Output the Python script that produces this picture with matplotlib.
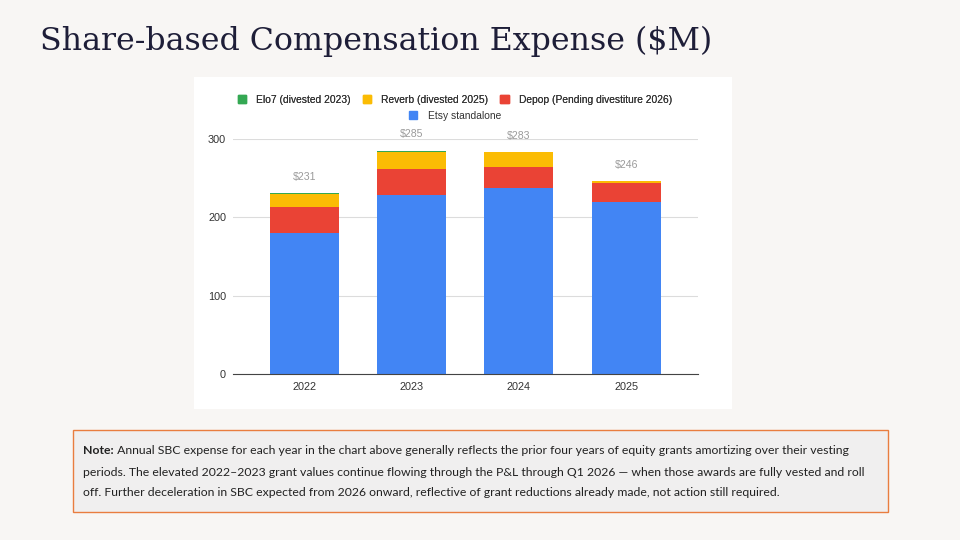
"""
Share-based compensation expense, stacked by business unit (2022-2025).
Rebuilds the slide: serif title, white chart card, orange-bordered note box.
"""
import matplotlib
matplotlib.use("Agg")
import matplotlib.pyplot as plt
from matplotlib.patches import Rectangle
import numpy as np

plt.rcParams["font.family"] = ["Liberation Sans", "DejaVu Sans"]

years = ["2022", "2023", "2024", "2025"]
etsy = [180, 229, 237, 220]
depop = [33, 33, 27, 24]
reverb = [17, 21, 19, 2]
elo7 = [1, 2, 0, 0]
totals = ["$231", "$285", "$283", "$246"]

series_names = ["Elo7 (divested 2023)", "Reverb (divested 2025)",
                "Depop (Pending divestiture 2026)", "Etsy standalone"]
BLUE, RED, YELLOW, GREEN = "#4285f4", "#ea4335", "#fbbc04", "#34a853"

note_lines = [
    "Annual SBC expense for each year in the chart above generally reflects the prior four years of equity grants amortizing over their vesting",
    "periods. The elevated 2022\u20132023 grant values continue flowing through the P&L through Q1 2026 \u2014 when those awards are fully vested and roll",
    "off. Further deceleration in SBC expected from 2026 onward, reflective of grant reductions already made, not action still required.",
]

W, H = 960, 540
fig = plt.figure(figsize=(W / 100, H / 100), dpi=100, facecolor="#f8f6f4")

def fx(px): return px / W
def fy(py): return 1 - py / H

# title
fig.text(fx(40), fy(41), "Share-based Compensation Expense ($M)", family="DejaVu Serif",
         fontsize=22.8, color="#1e1e38", va="center", ha="left")

# white chart card (behind the axes)
card = Rectangle((fx(194), fy(409)), fx(732) - fx(194), fy(77) - fy(409),
                 transform=fig.transFigure, facecolor="white", edgecolor="none", zorder=-1)
fig.add_artist(card)

ax = fig.add_axes([fx(233), fy(374), fx(698) - fx(233), fy(139) - fy(374)])
ax.set_facecolor("none")
x = np.arange(len(years))
bw = 0.644
bottom = np.zeros(len(years))
for vals, col in [(etsy, BLUE), (depop, RED), (reverb, YELLOW), (elo7, GREEN)]:
    ax.bar(x, vals, bw, bottom=bottom, color=col, zorder=3)
    bottom += np.array(vals)
for xi, top, lab in zip(x, bottom, totals):
    ax.text(xi, top + 21, lab, ha="center", va="center", fontsize=7.6, color="#9a9a9a", clip_on=False)

ax.set_ylim(0, 300)
ax.set_xlim(-0.664, 3.67)
ax.set_yticks([0, 100, 200, 300])
ax.set_xticks(x, years)
ax.grid(axis="y", color="#dcdcdc", lw=0.8, zorder=0)
for s in ["top", "right", "left"]:
    ax.spines[s].set_visible(False)
ax.spines["bottom"].set_color("#444444")
ax.spines["bottom"].set_zorder(4)
ax.tick_params(length=0, labelsize=7.8, colors="#333333")
ax.tick_params(axis="y", pad=5)
ax.tick_params(axis="x", pad=6)

# legend: 3 on first row, Etsy centred on second
hs = [Rectangle((0, 0), 1, 1, color=c) for c in (GREEN, YELLOW, RED, BLUE)]
leg_kw = dict(frameon=False, fontsize=7.4, handlelength=0.8, handleheight=0.8,
              handletextpad=1.0, labelcolor="#333333")
leg1 = fig.legend(hs[:3], series_names[:3], loc="center", bbox_to_anchor=(fx(455), fy(100)),
                  ncol=3, columnspacing=1.15, **leg_kw)
fig.legend(hs[3:], series_names[3:], loc="center", bbox_to_anchor=(fx(455), fy(116)), **leg_kw)
fig.add_artist(leg1)

# note box
box = Rectangle((fx(73), fy(512)), fx(888) - fx(73), fy(430) - fy(512),
                transform=fig.transFigure, facecolor="#f0efef", edgecolor="#e97d3f", lw=1.0, zorder=-1)
fig.add_artist(box)
note_font = dict(family="Lato", fontsize=8.83, color="#222222", va="center")
t0 = fig.text(fx(83), fy(451), "Note:", fontweight="bold", **note_font)
fig.add_artist(matplotlib.text.Annotation(" " + note_lines[0], xy=(1, 0.5), xycoords=t0,
                                          ha="left", **note_font))
fig.text(fx(83), fy(472), note_lines[1], **note_font)
fig.text(fx(83), fy(493), note_lines[2], **note_font)

fig.savefig("out.png", dpi=100, facecolor=fig.get_facecolor())
